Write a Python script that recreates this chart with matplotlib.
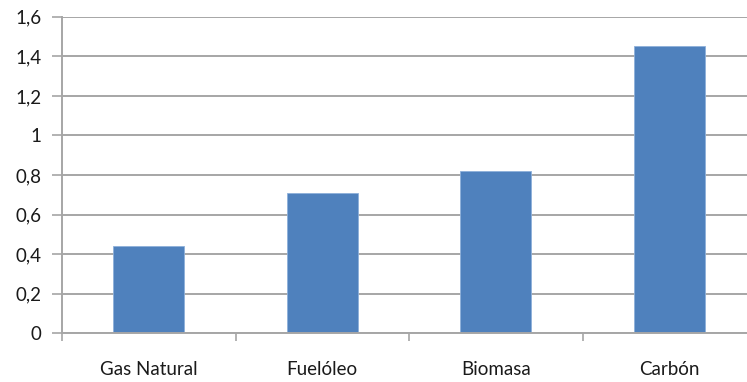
import matplotlib
matplotlib.use("Agg")
import matplotlib.pyplot as plt
from matplotlib.ticker import FixedLocator, FuncFormatter

categories = ["Gas Natural", "Fuelóleo", "Biomasa", "Carbón"]
values = [0.44, 0.71, 0.82, 1.45]
y_ticks = [0, 0.2, 0.4, 0.6, 0.8, 1.0, 1.2, 1.4, 1.6]

plt.rcParams["font.family"] = ["Lato", "DejaVu Sans"]

fig = plt.figure(figsize=(7.47, 3.82), dpi=100)
ax = fig.add_axes([0.083, 0.1275, 0.917, 0.8286])

x = list(range(len(categories)))
ax.bar(x, values, width=0.41, color="#4F81BD", edgecolor="#8DB0DA",
       linewidth=0.6, zorder=3)

ax.set_xlim(-0.5, 3.448)
ax.set_ylim(0, 1.6)

grid_color = "#A6A6A6"
ax.set_yticks(y_ticks)
ax.yaxis.set_major_formatter(FuncFormatter(
    lambda v, _: ("%g" % round(v, 1)).replace(".", ",")))
ax.yaxis.grid(True, color=grid_color, linewidth=1.4, zorder=0)
ax.tick_params(axis="y", length=7, width=1.2, color=grid_color, pad=8,
               labelsize=13.5, labelcolor="#1a1a1a")

ax.set_xticks(x)
ax.set_xticklabels(categories)
ax.xaxis.set_minor_locator(FixedLocator([-0.5, 0.5, 1.5, 2.5, 3.5]))
ax.tick_params(axis="x", which="major", length=0, pad=20,
               labelsize=13.5, labelcolor="#1a1a1a")
ax.tick_params(axis="x", which="minor", length=6, width=1.2,
               color=grid_color)

for side in ("top", "right"):
    ax.spines[side].set_visible(False)
for side in ("left", "bottom"):
    ax.spines[side].set_color(grid_color)
    ax.spines[side].set_linewidth(1.4)
    ax.spines[side].set_zorder(4)

fig.savefig("out.png", dpi=100)
